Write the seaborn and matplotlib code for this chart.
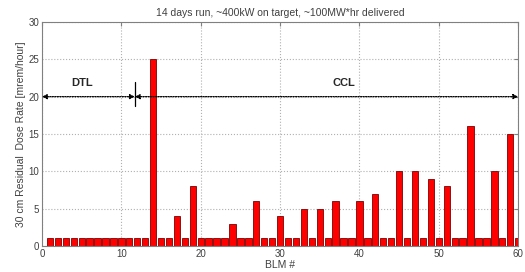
import numpy as np
import pandas as pd
import matplotlib
matplotlib.use("Agg")
import matplotlib.pyplot as plt
import seaborn as sns

# -----------------------------
# DATA
# -----------------------------
blm = list(range(1, 61))
dose = [1, 1, 1, 1, 1, 1, 1, 1, 1, 1, 1, 1, 1, 25, 1, 1, 4, 1, 8, 1,
        1, 1, 1, 3, 1, 1, 6, 1, 1, 4, 1, 1, 5, 1, 5, 1, 6, 1, 1, 6,
        1, 7, 1, 1, 10, 1, 10, 1, 9, 1, 8, 1, 1, 16, 1, 1, 10, 1, 15, 1]
x_ticks = [0, 10, 20, 30, 40, 50, 60]
y_ticks = [0, 5, 10, 15, 20, 25, 30]
title = "14 days run, ~400kW on target, ~100MW*hr delivered"
dtl_end = 11.7

df = pd.DataFrame({"BLM": blm, "Dose": dose})

# -----------------------------
# STYLE
# -----------------------------
sns.set_style("white")
plt.rcParams["font.family"] = ["Liberation Sans", "DejaVu Sans"]

fig = plt.figure(figsize=(5.25, 2.72), dpi=100)
ax = fig.add_axes([0.08, 0.096, 0.907, 0.823])

sns.barplot(data=df, x="BLM", y="Dose", native_scale=True, color="#ff0000",
            saturation=1, edgecolor="#7a0000", linewidth=0.6, width=0.8, ax=ax)

ax.set_xlim(0, 60)
ax.set_ylim(0, 30)
ax.set_xticks(x_ticks)
ax.set_yticks(y_ticks)
ax.grid(True, linestyle=":", color="#b0b0b0", linewidth=0.8)
ax.set_axisbelow(True)
for s in ax.spines.values():
    s.set_color("#808080")
    s.set_linewidth(0.8)
ax.tick_params(direction="in", top=True, right=True, length=3, labelsize=7,
               colors="#808080", labelcolor="#404040", pad=2)

ax.set_title(title, fontsize=7.5, color="#404040", pad=4)
ax.set_xlabel("BLM #", fontsize=7.5, color="#404040", labelpad=1)
ax.set_ylabel("30 cm Residual  Dose Rate [mrem/hour]", fontsize=7.5,
              color="#404040", labelpad=2)

# -----------------------------
# DTL / CCL ANNOTATIONS
# -----------------------------
arrow = dict(arrowstyle="<|-|>", color="black", lw=0.9, linestyle=(0, (1, 1)),
             mutation_scale=7, shrinkA=0, shrinkB=0)
ax.annotate("", xy=(0, 20), xytext=(dtl_end, 20), arrowprops=arrow)
ax.annotate("", xy=(dtl_end, 20), xytext=(60, 20), arrowprops=arrow)
ax.plot([dtl_end, dtl_end], [18.7, 21.9], color="black", lw=0.9)
ax.text(5, 21.8, "DTL", fontsize=8, fontweight="bold", ha="center", va="center")
ax.text(38, 21.8, "CCL", fontsize=8, fontweight="bold", ha="center", va="center")

plt.savefig("out.png", dpi=100)
